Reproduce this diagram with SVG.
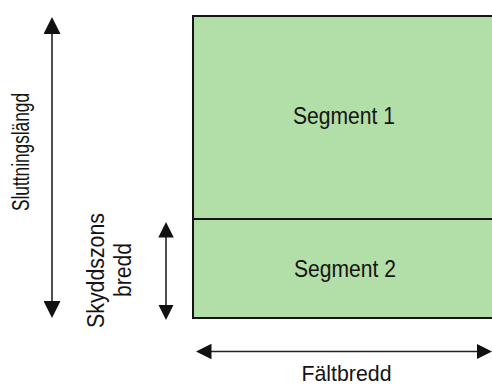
<svg xmlns="http://www.w3.org/2000/svg" width="492" height="386" viewBox="0 0 492 386">
  <style>
    .seg { fill: #b2dea7; stroke: #151515; stroke-width: 2; }
    .lbl { font-family: "Liberation Sans", Arial, sans-serif; font-size: 23px; fill: #141414; text-anchor: middle; }
    .dim { stroke: #222; stroke-width: 1.6; fill: none; }
  </style>
  <defs>
    <marker id="headBig" viewBox="0 0 17 17" refX="13" refY="8.5" markerWidth="17" markerHeight="17" markerUnits="userSpaceOnUse" orient="auto-start-reverse">
      <path d="M0,0 L17,8.5 L0,17 z" fill="#111"/>
    </marker>
    <marker id="headSmall" viewBox="0 0 15.5 15.5" refX="11.5" refY="7.75" markerWidth="15.5" markerHeight="15.5" markerUnits="userSpaceOnUse" orient="auto-start-reverse">
      <path d="M0,0 L15.5,7.75 L0,15.5 z" fill="#111"/>
    </marker>
  </defs>

  <g id="segment1">
    <rect class="seg" x="193" y="16" width="310" height="203"/>
    <text class="lbl" x="344" y="124" textLength="102" lengthAdjust="spacingAndGlyphs">Segment 1</text>
  </g>
  <g id="segment2">
    <rect class="seg" x="193" y="219" width="310" height="99"/>
    <text class="lbl" x="345" y="277" textLength="102" lengthAdjust="spacingAndGlyphs">Segment 2</text>
  </g>

  <g id="connectors">
    <line class="dim" x1="52" y1="21" x2="52" y2="314" marker-start="url(#headBig)" marker-end="url(#headBig)"/>
    <line class="dim" x1="166" y1="226" x2="166" y2="316" marker-start="url(#headSmall)" marker-end="url(#headSmall)"/>
    <line class="dim" x1="200" y1="351.5" x2="488" y2="351.5" marker-start="url(#headSmall)" marker-end="url(#headSmall)"/>
  </g>

  <g id="label-sluttningslangd">
    <text class="lbl" transform="translate(28.5,152) rotate(-90)" x="0" y="0" textLength="118" lengthAdjust="spacingAndGlyphs">Sluttningslängd</text>
  </g>
  <g id="label-skyddszons">
    <text class="lbl" transform="translate(103.5,270.5) rotate(-90)" x="0" y="0" textLength="115" lengthAdjust="spacingAndGlyphs">Skyddszons</text>
    <text class="lbl" transform="translate(130.5,270) rotate(-90)" x="0" y="0" textLength="54" lengthAdjust="spacingAndGlyphs">bredd</text>
  </g>
  <g id="label-faltbredd">
    <text class="lbl" x="346.5" y="381" style="font-size:22px" textLength="90" lengthAdjust="spacingAndGlyphs">Fältbredd</text>
  </g>
</svg>
